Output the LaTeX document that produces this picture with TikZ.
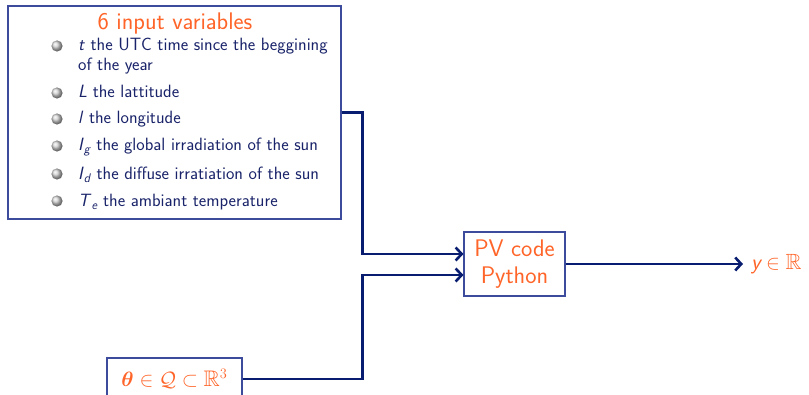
\documentclass[tikz,border=0pt]{standalone}
\usepackage{amsmath,amssymb,bm}
\usetikzlibrary{arrows.meta,calc}
\definecolor{navy}{RGB}{8,28,112}
\definecolor{txtblue}{RGB}{25,35,105}
\definecolor{frameblue}{RGB}{60,75,155}
\definecolor{orng}{RGB}{255,100,40}
\newcommand{\subsf}[1]{\raisebox{-3pt}{\fontsize{12.5}{12.5}\selectfont\textit{#1}}}
\begin{document}
\begin{tikzpicture}[x=1pt,y=-1pt,
  frame/.style={draw=frameblue,line width=1.1pt,fill=white,inner sep=0pt},
  item/.style={anchor=base west,inner sep=0pt,text=txtblue,font=\sffamily\fontsize{17.8}{20}\selectfont},
  ttl/.style={text=orng,inner sep=0pt,font=\sffamily\fontsize{24}{28}\selectfont},
  conn/.style={draw=navy,line width=2.9pt},
  arr/.style={conn,-{Straight Barb[length=6pt,width=13pt,line width=2.6pt]}}]
\useasboundingbox (0,0) rectangle (809,395);
% input box
\node[frame,minimum width=333pt,minimum height=213pt] (inputs) at (174.5,112.5) {};
\node[ttl,anchor=base] (title) at (175,30) {6 input variables};
\foreach \yy in {46,93,119,146,174,201}{
  \shade[ball color=gray!35] (57,\yy) circle (5.6pt);
}
\node[item] (i1) at (78,51) {\textit{t} the UTC time since the beggining};
\node[item] (i1b) at (78,71) {of the year};
\node[item] (i2) at (78,98) {\textit{L} the lattitude};
\node[item] (i3) at (78,124) {\textit{l} the longitude};
\node[item] (i4) at (78,151) {\textit{I}\subsf{g} the global irradiation of the sun};
\node[item] (i5) at (78,180) {\textit{I}\subsf{d} the diffuse irratiation of the sun};
\node[item] (i6) at (78,207) {\textit{T}\subsf{e} the ambiant temperature};
% PV box
\node[frame,minimum width=101pt,minimum height=64pt,align=center,text=orng,
  font=\sffamily\fontsize{24}{27}\selectfont] (pv) at (514.5,264) {PV code\\Python};
% theta box
\node[frame,minimum width=135pt,minimum height=42pt,text=orng,
  font=\fontsize{22.5}{24}\selectfont] (theta) at (174.5,379)
  {$\boldsymbol{\theta}\in\mathcal{Q}\subset\mathbb{R}^3$};
% output label
\node[anchor=west,text=orng,inner sep=0pt,font=\fontsize{22}{24}\selectfont] (y) at (751,264)
  {\textsf{\textit{y}}\,$\in\mathbb{R}$};
% connectors
\coordinate (pvin1) at ($(pv.west)+(0,-10)$);
\coordinate (pvin2) at ($(pv.west)+(0,11)$);
\draw[arr] (inputs.east) -- ++(21,0) |- (pvin1);
\draw[arr] (theta.east) -- ++(120,0) |- (pvin2);
\draw[arr] (pv.east) -- ($(y.west)+(-8,0)$);
\end{tikzpicture}
\end{document}
